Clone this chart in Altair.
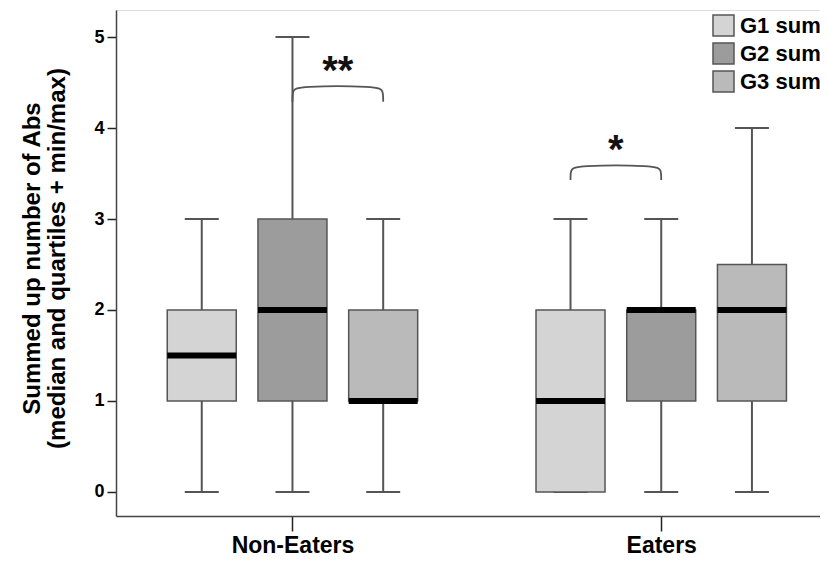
import altair as alt
import pandas as pd

# ---- data ----
groups = ["Non-Eaters", "Eaters"]
series = ["G1 sum", "G2 sum", "G3 sum"]
row_group = [0, 0, 0, 1, 1, 1]
row_series = [0, 1, 2, 0, 1, 2]
mins = [0, 0, 0, 0, 0, 0]
q1s = [1, 1, 1, 0, 1, 1]
medians = [1.5, 2, 1, 1, 2, 2]
q3s = [2, 3, 2, 2, 2, 2.5]
maxs = [3, 5, 3, 3, 3, 4]

# significance brackets: group, from-series, to-series, bracket top, leg end, label, label y
br_group = [0, 1]
br_from = [1, 0]
br_to = [2, 1]
br_top = [4.46, 3.59]
br_end = [4.29, 3.43]
br_label = ["**", "*"]
br_label_y = [4.62, 3.75]

fills = ["#d4d4d4", "#9c9c9c", "#bababa"]
SPACING = 0.246  # distance between boxes inside a group, in x units

df = pd.DataFrame({
    "gi": row_group,
    "si": row_series,
    "series": [series[i] for i in row_series],
    "mn": mins, "q1": q1s, "med": medians, "q3": q3s, "mx": maxs,
})

# bracket paths (rounded corners via basis interpolation)
dx, dy = 0.012, 0.05
rows = []
for b in range(len(br_group)):
    x1 = br_group[b] + (br_from[b] - 1) * SPACING
    x2 = br_group[b] + (br_to[b] - 1) * SPACING
    t, e = br_top[b], br_end[b]
    pts = [(x1, e), (x1, e), (x1, t - dy), (x1 + dx, t), (x2 - dx, t), (x2, t - dy), (x2, e), (x2, e)]
    for k, (px, py) in enumerate(pts):
        rows.append({"b": b, "k": k, "bx": px, "by": py})
br_df = pd.DataFrame(rows)
lab_df = pd.DataFrame({
    "lx": [br_group[b] + ((br_from[b] + br_to[b]) / 2 - 1) * SPACING for b in range(len(br_group))],
    "ly": br_label_y,
    "txt": br_label,
})

xscale = alt.Scale(domain=[-0.465, 1.417], nice=False, zero=False)
yscale = alt.Scale(domain=[-0.264, 5.297], nice=False, zero=False)

label_expr = "[" + ",".join("'" + g + "'" for g in groups) + "][datum.value]"

xaxis = alt.Axis(values=[0, 1], labelExpr=label_expr, title=None, grid=False,
                 tickSize=15, tickColor="#222", tickWidth=1.5,
                 labelFontSize=23, labelFontWeight="bold", labelColor="#000",
                 labelPadding=3, domainColor="#444", domainWidth=1.5)
yaxis = alt.Axis(values=[0, 1, 2, 3, 4, 5], format="d", grid=False, tickSize=9, tickColor="#222",
                 tickWidth=1.5, labelFontSize=18, labelFontWeight="bold", labelColor="#000",
                 labelPadding=3, domainColor="#444", domainWidth=1.5,
                 title=["Summed up number of Abs", "(median and quartiles + min/max)"],
                 titleFontSize=24, titleFontWeight="bold", titleColor="#000",
                 titleX=-96, titleY=248, titleAngle=270, titleBaseline="top",
                 titleAlign="center", titleLineHeight=25)

base = alt.Chart(df).transform_calculate(xpos=f"datum.gi + (datum.si - 1) * {SPACING}")

whisker = base.mark_rule(color="#555", strokeWidth=2).encode(
    x=alt.X("xpos:Q", scale=xscale, axis=xaxis),
    y=alt.Y("mn:Q", scale=yscale, axis=yaxis),
    y2="mx:Q",
)
cap_lo = base.mark_tick(orient="horizontal", size=34, thickness=2, color="#555", opacity=1).encode(
    x="xpos:Q", y="mn:Q")
cap_hi = base.mark_tick(orient="horizontal", size=34, thickness=2, color="#555", opacity=1).encode(
    x="xpos:Q", y="mx:Q")
box = base.mark_bar(orient="vertical", size=69, stroke="#555", strokeWidth=1.5, opacity=1).encode(
    x="xpos:Q",
    y="q1:Q",
    y2="q3:Q",
    fill=alt.Fill("series:N", scale=alt.Scale(domain=series, range=fills),
                  legend=alt.Legend(title=None, orient="none", legendX=596, legendY=4,
                                    symbolType="square", symbolSize=441,
                                    symbolStrokeColor="#555", symbolStrokeWidth=1.5,
                                    labelFontSize=22, labelFontWeight="bold",
                                    labelColor="#000", labelOffset=5, rowPadding=1,
                                    labelLimit=300, symbolOpacity=1)),
)
median = base.mark_tick(orient="horizontal", size=69, thickness=6, color="#000", opacity=1).encode(
    x="xpos:Q", y="med:Q")

brackets = alt.Chart(br_df).mark_line(color="#555", strokeWidth=1.8, interpolate="basis").encode(
    x="bx:Q", y="by:Q", detail="b:N", order="k:Q")
stars = alt.Chart(lab_df).mark_text(fontSize=40, fontWeight="bold", color="#111",
                                    baseline="middle", align="center").encode(
    x="lx:Q", y="ly:Q", text="txt:N")

chart = alt.layer(whisker, cap_lo, cap_hi, box, median, brackets, stars).properties(
    width=704, height=506,
    autosize=alt.AutoSizeParams(type="none"),
    padding={"left": 108, "top": 2, "right": 0, "bottom": 45},
).configure_view(stroke=None).configure(font="Liberation Sans")

chart.save("out.html", embed_options={"renderer": "svg", "actions": False})
